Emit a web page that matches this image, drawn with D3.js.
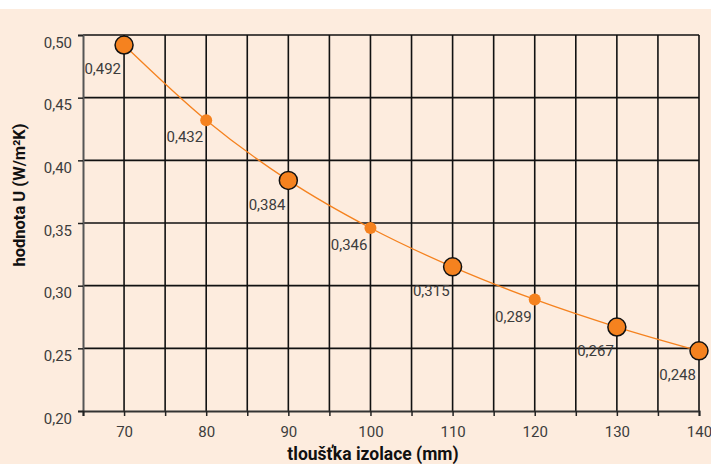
<!DOCTYPE html>
<html>
<head>
<meta charset="utf-8">
<script src="https://cdn.jsdelivr.net/npm/d3@7"></script>
<style>
  html, body { margin: 0; padding: 0; background: #fff; }
  svg { display: block; font-family: "Roboto", "DejaVu Sans", sans-serif; }
  .tick text { fill: #3c3c3c; font-size: 15px; font-family: "Roboto", sans-serif; }
  .val { fill: #3c3c3c; font-size: 15px; font-family: "Roboto", sans-serif; }
  .title { fill: #111; font-size: 16.5px; font-weight: 700; font-family: "Roboto", sans-serif; }
</style>
</head>
<body>
<div id="chart"></div>
<script>
// tloušťka izolace vs. hodnota U
const thickness = [70, 80, 90, 100, 110, 120, 130, 140];
const uValues   = [0.492, 0.432, 0.384, 0.346, 0.315, 0.289, 0.267, 0.248];
const bigPoints = [70, 90, 110, 130, 140];   // body s velkou značkou
const xTicks    = [70, 80, 90, 100, 110, 120, 130, 140];
const yTicks    = [0.20, 0.25, 0.30, 0.35, 0.40, 0.45, 0.50];

const W = 711, H = 464;
const ORANGE = "#f5821f";
const fmt = d3.format(".3f");
const comma = s => s.replace(".", ",");

const svg = d3.select("#chart").append("svg").attr("width", W).attr("height", H);
svg.append("rect").attr("x", 0).attr("y", 9).attr("width", W).attr("height", H - 9).attr("fill", "#fdecde");

const x = d3.scaleLinear().domain([65, 140]).range([83, 699]);
const y = d3.scaleLinear().domain([0.20, 0.50]).range([411, 35]);

const data = thickness.map((t, i) => ({ t, u: uValues[i], big: bigPoints.includes(t) }));

// mřížka
const grid = svg.append("g");
grid.selectAll("line.v").data(d3.range(70, 141, 5)).join("line")
  .attr("x1", d => x(d)).attr("x2", d => x(d))
  .attr("y1", y(0.50)).attr("y2", y(0.20))
  .attr("stroke", "#111").attr("stroke-width", 1.6);
grid.selectAll("line.h").data(yTicks.slice(1)).join("line")
  .attr("x1", x(65)).attr("x2", x(140))
  .attr("y1", d => y(d)).attr("y2", d => y(d))
  .attr("stroke", "#111").attr("stroke-width", 1.6);

// osy
const yAxis = svg.append("g").attr("transform", `translate(${x(65)},0)`)
  .call(d3.axisLeft(y).tickValues(yTicks).tickSize(5).tickPadding(6)
    .tickFormat(d => d3.format(".2f")(d).replace(".", ",")));
yAxis.select(".domain").attr("stroke", "#555").attr("stroke-width", 2);
yAxis.selectAll(".tick line").attr("stroke", "#222").attr("stroke-width", 1.5);
yAxis.selectAll(".tick text").attr("dy", "0.8em");

const xAxis = svg.append("g").attr("transform", `translate(0,${y(0.20)})`)
  .call(d3.axisBottom(x).tickValues(d3.range(65, 141, 5)).tickSize(5).tickPadding(10)
    .tickFormat(d => xTicks.includes(d) ? d : ""));
xAxis.select(".domain").attr("stroke", "#333").attr("stroke-width", 2);
xAxis.selectAll(".tick line").attr("stroke", "#222").attr("stroke-width", 1.5);

// popisky os
svg.append("text").attr("class", "title")
  .attr("x", 373).attr("y", 460).attr("text-anchor", "middle")
  .style("font-size", "17.5px")
  .text("tloušťka izolace (mm)");
svg.append("text").attr("class", "title")
  .attr("transform", "translate(25,195) rotate(-90)").attr("text-anchor", "middle")
  .text("hodnota U (W/m²K)");

// křivka
const line = d3.line().x(d => x(d.t)).y(d => y(d.u)).curve(d3.curveMonotoneX);
svg.append("path").datum(data).attr("d", line)
  .attr("fill", "none").attr("stroke", ORANGE).attr("stroke-width", 1.3);

// body
svg.selectAll("circle.pt").data(data).join("circle")
  .attr("class", "pt")
  .attr("cx", d => x(d.t)).attr("cy", d => y(d.u))
  .attr("r", d => d.big ? 9 : 6)
  .attr("fill", ORANGE)
  .attr("stroke", d => d.big ? "#111" : "none")
  .attr("stroke-width", 1.5);

// hodnoty
svg.selectAll("text.val").data(data).join("text")
  .attr("class", "val")
  .attr("x", d => x(d.t) - 3)
  .attr("y", d => y(d.u) + (d.big ? 24 : 17))
  .attr("dy", "0.35em")
  .attr("text-anchor", "end")
  .text(d => comma(fmt(d.u)));
</script>
</body>
</html>
